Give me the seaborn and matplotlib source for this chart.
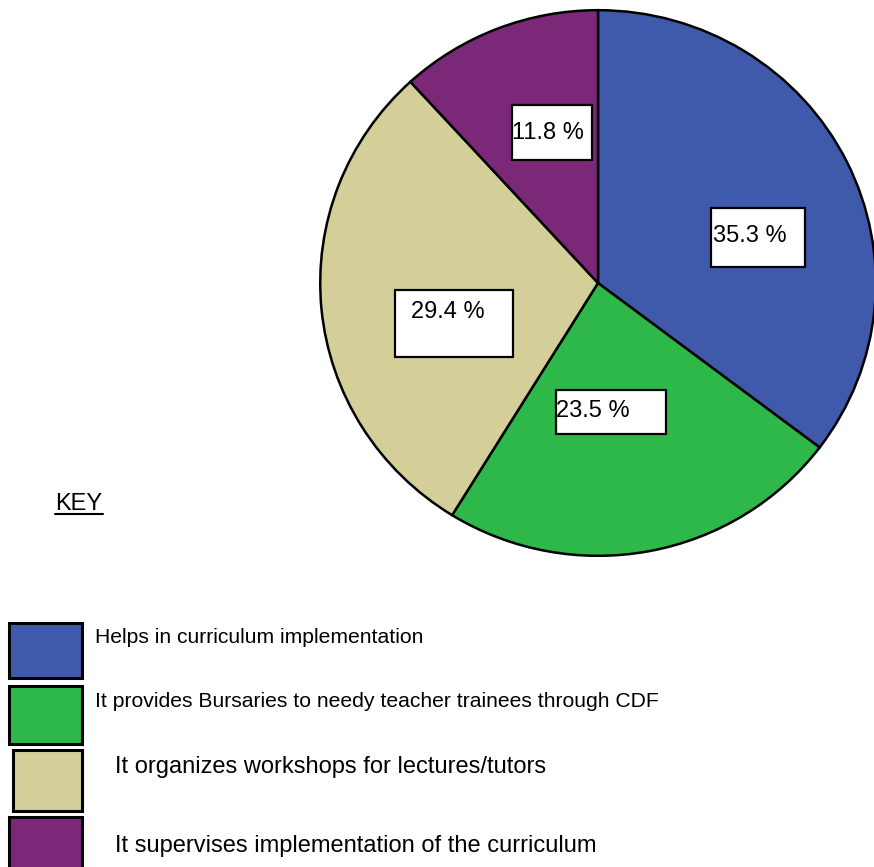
import matplotlib
matplotlib.use('Agg')
import matplotlib.pyplot as plt
from matplotlib.patches import Rectangle
from matplotlib.lines import Line2D
import seaborn as sns

# data
categories = ['Helps in curriculum implementation',
              'It provides Bursaries to needy teacher trainees through CDF',
              'It organizes workshops for lectures/tutors',
              'It supervises implementation of the curriculum']
percents = [35.3, 23.5, 29.4, 11.8]
pct_labels = ['35.3 %', '23.5 %', '29.4 %', '11.8 %']
colors = ['#3F59AB', '#2EB84A', '#D4CF98', '#7B2879']

W, H = 874, 867

sns.set_theme(style='white')
plt.rcParams['font.family'] = ['Liberation Sans', 'DejaVu Sans']
plt.rcParams['text.color'] = 'black'

fig = plt.figure(figsize=(W / 100, H / 100), dpi=100)


def fx(x):
    return x / W


def fy(y):
    return 1 - y / H


# pie axes (pixel geometry of the ellipse)
cx, cy, rx, ry = 598, 283, 280, 275
ax = fig.add_axes([fx(cx - rx), fy(cy + ry), 2 * rx / W, 2 * ry / H])
palette = sns.color_palette(colors)
ax.pie(percents, colors=palette, startangle=90, counterclock=False,
       wedgeprops=dict(edgecolor='black', linewidth=1.8))
ax.set_aspect('auto')
ax.set_xlim(-1.008, 1.008)
ax.set_ylim(-1.008, 1.008)
ax.axis('off')

# percent label boxes: (box left, top, right, bottom, text x, baseline)
label_layout = [
    (711, 208, 805, 267, 713, 242),
    (556, 390, 666, 434, 556, 417),
    (395, 290, 513, 357, 411, 318),
    (512, 105, 592, 160, 512, 139),
]
for lab, (x0, y0, x1, y1, tx, ty) in zip(pct_labels, label_layout):
    fig.patches.append(Rectangle((fx(x0), fy(y1)), (x1 - x0) / W, (y1 - y0) / H,
                                 transform=fig.transFigure, facecolor='white',
                                 edgecolor='black', linewidth=1.6, zorder=5))
    fig.text(fx(tx), fy(ty), lab, fontsize=17, ha='left', va='baseline',
             color='black', zorder=6)

# KEY heading
fig.text(fx(55), fy(510), 'KEY', fontsize=17, ha='left', va='baseline', color='black')
fig.lines.append(Line2D([fx(55), fx(103)], [fy(514), fy(514)],
                        transform=fig.transFigure, color='black', linewidth=1.5))

# legend: (box left, top, right, bottom, text x, baseline, fontsize)
legend_layout = [
    (9, 623, 82, 678, 95, 643, 15.2),
    (9, 686, 82, 744, 95, 707, 15.2),
    (13, 750, 82, 811, 115, 773, 17),
    (9, 817, 82, 872, 115, 852, 17),
]
for cat, col, (x0, y0, x1, y1, tx, ty, fs) in zip(categories, palette, legend_layout):
    fig.patches.append(Rectangle((fx(x0), fy(y1)), (x1 - x0) / W, (y1 - y0) / H,
                                 transform=fig.transFigure, facecolor=col,
                                 edgecolor='black', linewidth=2.2))
    fig.text(fx(tx), fy(ty), cat, fontsize=fs, ha='left', va='baseline', color='black')

fig.savefig('out.png', dpi=100, facecolor='white')
